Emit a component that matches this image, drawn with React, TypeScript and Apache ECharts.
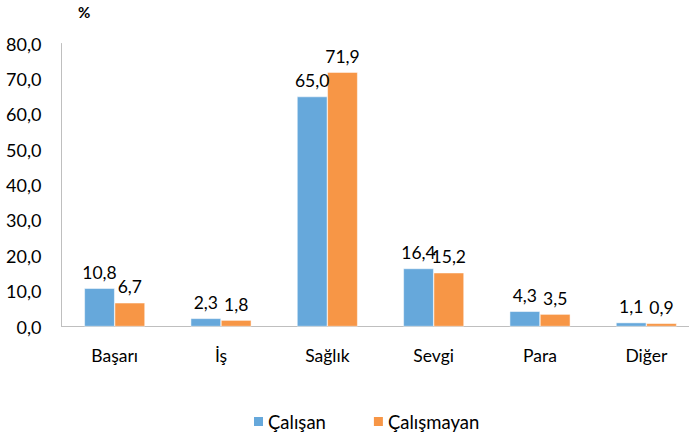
import React, { useEffect, useRef } from "react";
import * as echarts from "echarts";

const categories = ["Başarı", "İş", "Sağlık", "Sevgi", "Para", "Diğer"];
const calisan = [10.8, 2.3, 65.0, 16.4, 4.3, 1.1];
const calismayan = [6.7, 1.8, 71.9, 15.2, 3.5, 0.9];
const seriesNames = ["Çalışan", "Çalışmayan"];
const yTicks = { min: 0, max: 80, interval: 10 };

const FONT = "Lato, 'Open Sans', sans-serif";
const fmt = (v: number) => v.toFixed(1).replace(".", ",");

export default function App() {
  const ref = useRef<HTMLDivElement>(null);
  useEffect(() => {
    if (!ref.current) return;
    const chart = echarts.init(ref.current, null, { renderer: "svg" });
    const labelStyle = {
      show: true,
      position: "top" as const,
      distance: 7,
      color: "#000",
      fontSize: 17.5,
      fontFamily: FONT,
      formatter: (p: any) => fmt(p.value),
    };
    chart.setOption({
      animation: false,
      backgroundColor: "#fff",
      graphic: [
        {
          type: "text",
          left: 78,
          top: 4,
          style: { text: "%", fontSize: 15, fontWeight: "bold", fontFamily: FONT, fill: "#000" },
        },
      ],
      legend: {
        top: 407,
        left: 247,
        itemWidth: 11,
        itemHeight: 11,
        itemGap: 46,
        icon: "rect",
        textStyle: { fontSize: 18.5, fontFamily: FONT, color: "#000", padding: [0, 0, 0, -1] },
        data: seriesNames,
      },
      grid: { left: 61.5, top: 43.5, width: 638, height: 283, containLabel: false },
      xAxis: {
        type: "category",
        data: categories,
        axisLine: { lineStyle: { color: "#BFBFBF" } },
        axisTick: { show: false },
        axisLabel: { fontSize: 17.5, fontFamily: FONT, color: "#000", margin: 20 },
      },
      yAxis: {
        type: "value",
        min: yTicks.min,
        max: yTicks.max,
        interval: yTicks.interval,
        axisLine: { show: true, lineStyle: { color: "#BFBFBF" } },
        axisTick: { show: false },
        splitLine: { show: false },
        axisLabel: { fontSize: 18, fontFamily: FONT, color: "#000", margin: 20, formatter: fmt },
      },
      series: [
        {
          name: seriesNames[0],
          type: "bar",
          data: calisan,
          barGap: "0%",
          barCategoryGap: "43%",
          itemStyle: { color: "#66A8DB", borderColor: "#fff", borderWidth: 0.5 },
          label: labelStyle,
        },
        {
          name: seriesNames[1],
          type: "bar",
          data: calismayan,
          itemStyle: { color: "#F79646", borderColor: "#fff", borderWidth: 0.5 },
          label: labelStyle,
        },
      ],
    });
    return () => chart.dispose();
  }, []);
  return (
    <div
      style={{
        position: "absolute",
        left: 0,
        top: 0,
        width: 689,
        height: 435,
        overflow: "hidden",
        background: "#fff",
      }}
    >
      <div ref={ref} style={{ width: 710, height: 435 }} />
    </div>
  );
}
